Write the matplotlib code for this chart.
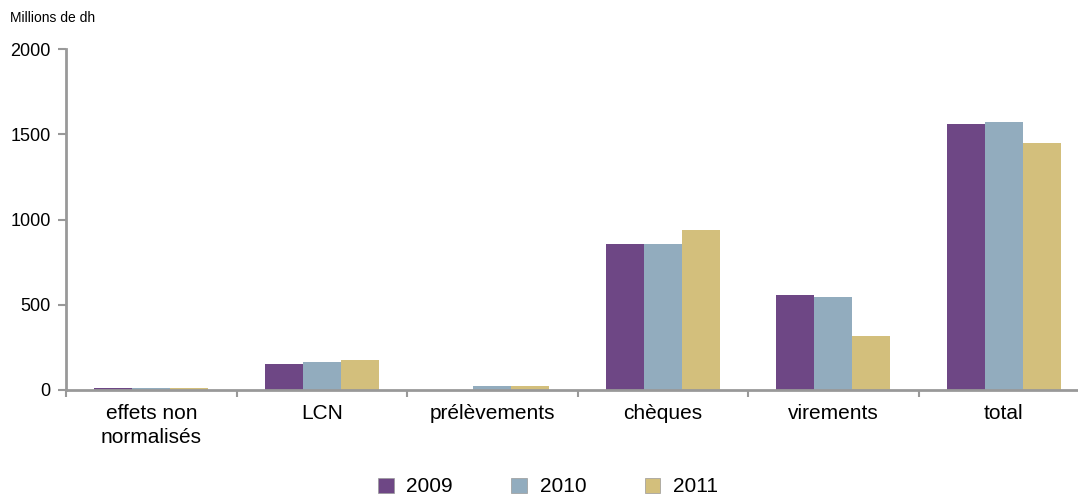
import matplotlib
matplotlib.use("Agg")
import matplotlib.pyplot as plt
import numpy as np
from matplotlib.patches import Patch

categories = ["effets non\nnormalisés", "LCN", "prélèvements", "chèques", "virements", "total"]
years = ["2009", "2010", "2011"]
v2009 = [12, 152, 0, 856, 557, 1560]
v2010 = [10, 164, 23, 856, 545, 1572]
v2011 = [10, 176, 23, 938, 317, 1449]
colors = ["#6E4785", "#92ACBE", "#D3BF7C"]

plt.rcParams['font.family'] = ['Liberation Sans Narrow', 'Liberation Sans', 'DejaVu Sans']

fig = plt.figure(figsize=(10.78, 4.95), dpi=100)
ax = fig.add_axes([66/1078, 1-390/495, 1-66/1078, (390-49)/495])

x = np.arange(len(categories))
w = 0.223
for i, (vals, c) in enumerate(zip([v2009, v2010, v2011], colors)):
    ax.bar(x + (i-1)*w, vals, w, color=c, linewidth=0)

ax.set_ylim(0, 2000)
ax.set_xlim(-0.5, -0.5 + (1078-66)/170.5)
ax.set_yticks([0, 500, 1000, 1500, 2000])
ax.set_yticklabels(["0", "500", "1000", "1500", "2000"], fontsize=13)
ax.set_xticks(np.arange(-0.5, 5.5, 1.0))
ax.set_xticklabels([])
ax.set_xticks(x, minor=True)
ax.set_xticklabels(categories, minor=True, fontsize=15, linespacing=1.35)
ax.tick_params(axis='x', which='minor', length=0, pad=10)
ax.tick_params(axis='x', which='major', length=5, width=1.5, color='#999999', direction='out')
ax.tick_params(axis='y', length=6, width=1.5, color='#999999', pad=5)
for s in ['top', 'right']:
    ax.spines[s].set_visible(False)
for s in ['left', 'bottom']:
    ax.spines[s].set_color('#999999')
    ax.spines[s].set_linewidth(2)

fig.text(10/1078, 1-18/495, "Millions de dh", fontsize=10, va='center', ha='left')

handles = [Patch(facecolor=c, edgecolor='#999999', linewidth=0.5) for c in colors]
fig.legend(handles, years, loc='center', bbox_to_anchor=(548/1078, 1-487/495), ncol=3,
           frameon=False, fontsize=15, columnspacing=2.8, handlelength=0.75, handleheight=0.75,
           handletextpad=0.6)

fig.savefig("out.png", dpi=100)
